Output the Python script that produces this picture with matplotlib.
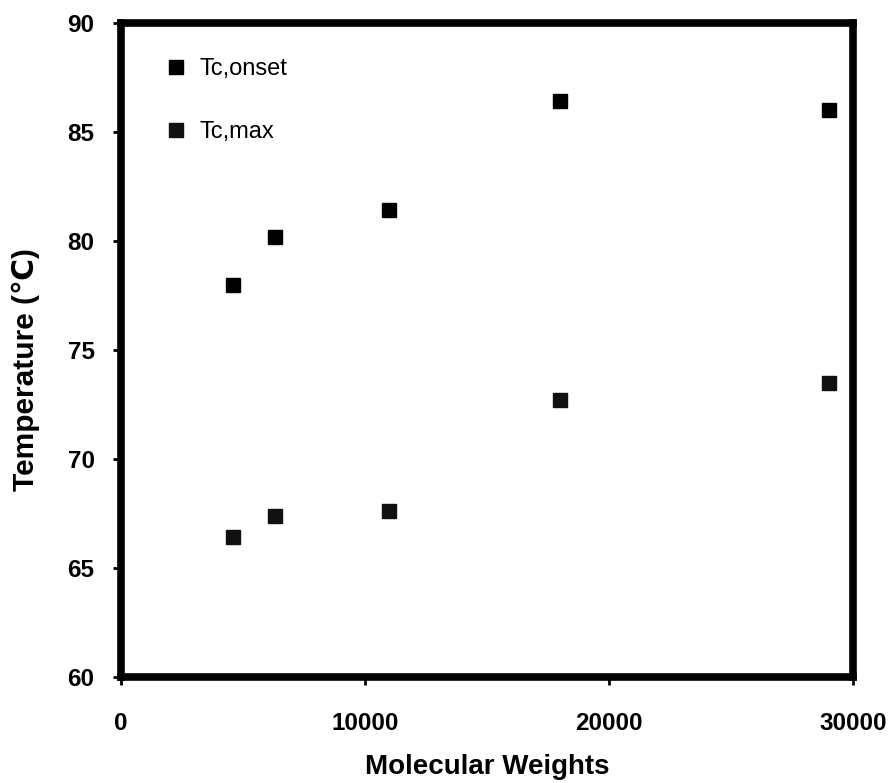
import numpy as np
import matplotlib.pyplot as plt

plt.rcParams['font.family'] = ['Liberation Sans', 'DejaVu Sans']

# 分子量
mw = [4600, 6300, 11000, 18000, 29000]
# 结晶温度
tc_onset = [78.0, 80.2, 81.4, 86.4, 86.0]
tc_max = [66.4, 67.4, 67.6, 72.7, 73.5]

fig = plt.figure(figsize=(8.91, 7.83), dpi=100)
ax = fig.add_axes([0.1358, 0.1354, 0.8216, 0.8352])

ax.plot(mw, tc_onset, 's', color='black', markersize=10.5, label='Tc,onset')
ax.plot(mw, tc_max, 's', color='#111111', markersize=10.5, label='Tc,max')

ax.set_xlim(0, 30000)
ax.set_ylim(60, 90)
ax.set_xticks([0, 10000, 20000, 30000])
ax.set_yticks([60, 65, 70, 75, 80, 85, 90])

for s in ax.spines.values():
    s.set_linewidth(5.5)
ax.tick_params(direction='out', length=6, width=2, labelsize=17.5)
ax.tick_params(axis='x', pad=19)
ax.tick_params(axis='y', pad=13)
for lab in ax.get_xticklabels() + ax.get_yticklabels():
    lab.set_fontweight('bold')

ax.set_xlabel('Molecular Weights', fontsize=20, fontweight='bold', labelpad=14)
ax.set_ylabel('Temperature (℃)', fontsize=21.5, fontweight='bold')
ax.yaxis.set_label_coords(-0.111, 0.47)

ax.legend(loc='upper left', frameon=False, fontsize=17, handlelength=1.0,
          handletextpad=0.5, labelspacing=1.75, borderaxespad=0.0,
          markerscale=0.95, bbox_to_anchor=(0.046, 0.961))

fig.savefig('out.png', dpi=100)
